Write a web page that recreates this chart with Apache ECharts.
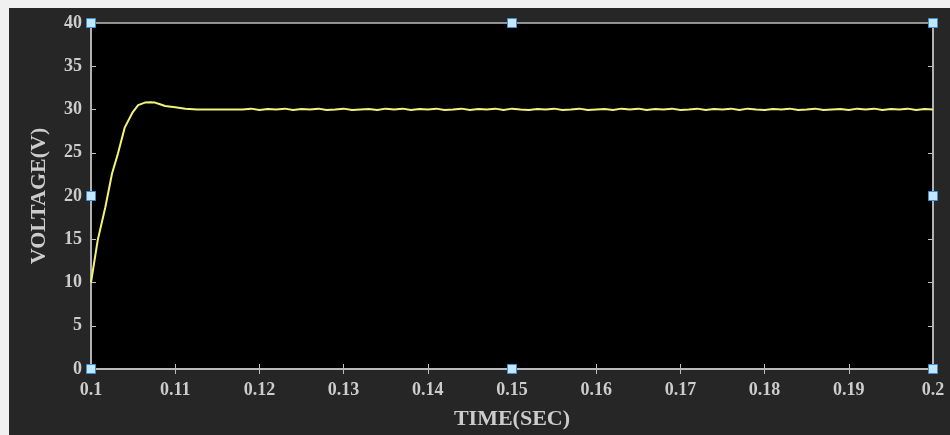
<!DOCTYPE html>
<html>
<head>
<meta charset="utf-8">
<script src="https://cdn.jsdelivr.net/npm/echarts@6/dist/echarts.min.js"></script>
<style>
html,body{margin:0;padding:0;background:#f0f0f0;width:950px;height:435px;overflow:hidden;}
#chart{position:absolute;left:9px;top:8px;width:941px;height:427px;background:#262626;}
</style>
</head>
<body>
<div id="chart"></div>
<script>
// ---- data ----
var xTicks = [0.1, 0.11, 0.12, 0.13, 0.14, 0.15, 0.16, 0.17, 0.18, 0.19, 0.2];
var yTicks = [0, 5, 10, 15, 20, 25, 30, 35, 40];
var transientTime = [0.1, 0.1008, 0.1017, 0.1025, 0.1032, 0.1040, 0.1049, 0.1056, 0.1064, 0.1070, 0.1076, 0.1082, 0.1088, 0.1100, 0.1112, 0.1126, 0.1175];
var transientVoltage = [10, 14.9, 18.7, 22.6, 24.9, 27.9, 29.6, 30.5, 30.8, 30.85, 30.8, 30.6, 30.4, 30.25, 30.1, 30.0, 30.0];
var steadyStart = 0.118;
var steadyStep = 0.001;
var steadyVoltage = [30.0, 30.1, 29.95, 30.05, 30.0, 30.1, 29.95, 30.05, 30.0, 30.1,
  29.95, 30.0, 30.1, 29.95, 30.0, 30.05, 29.95, 30.1, 30.0, 30.1,
  29.95, 30.05, 30.0, 30.1, 29.95, 30.0, 30.1, 29.95, 30.05, 30.0,
  30.1, 29.95, 30.1, 30.0, 29.95, 30.05, 30.0, 30.1, 29.95, 30.0,
  30.1, 29.95, 30.0, 30.05, 29.95, 30.1, 30.0, 30.1, 29.95, 30.05,
  30.0, 30.1, 29.95, 30.0, 30.1, 29.95, 30.05, 30.0, 30.1, 29.95,
  30.1, 30.0, 29.95, 30.05, 30.0, 30.1, 29.95, 30.0, 30.1, 29.95,
  30.0, 30.05, 29.95, 30.1, 30.0, 30.1, 29.95, 30.05, 30.0, 30.1,
  29.95, 30.05, 30.0];
var handleTime = [0.1, 0.15, 0.2, 0.1, 0.2, 0.1, 0.15, 0.2];
var handleVoltage = [40, 40, 40, 20, 20, 0, 0, 0];

// ---- build ----
var lineData = [];
for (var i = 0; i < transientTime.length; i++) lineData.push([transientTime[i], transientVoltage[i]]);
for (var j = 0; j < steadyVoltage.length; j++) lineData.push([+(steadyStart + j * steadyStep).toFixed(4), steadyVoltage[j]]);
var handles = handleTime.map(function (t, k) { return [t, handleVoltage[k]]; });

var font = 'Liberation Serif';
var axisCol = '#bdbdbd';
var labelCol = '#cccccc';

var chart = echarts.init(document.getElementById('chart'));
chart.setOption({
  animation: false,
  backgroundColor: '#262626',
  grid: {left: 82, top: 15, width: 842, height: 346, show: true, backgroundColor: '#000000', borderColor: axisCol, borderWidth: 1.5},
  xAxis: [{
    type: 'value', min: xTicks[0], max: xTicks[xTicks.length - 1], interval: 0.01,
    name: 'TIME(SEC)', nameLocation: 'middle', nameGap: 39,
    nameTextStyle: {color: labelCol, fontFamily: font, fontWeight: 'bold', fontSize: 22},
    axisLine: {show: true, lineStyle: {color: axisCol, width: 1.5}},
    axisTick: {show: true, inside: true, length: 5, lineStyle: {color: axisCol}},
    axisLabel: {color: labelCol, fontFamily: font, fontWeight: 'bold', fontSize: 18, margin: 12,
      formatter: function (v) { return String(+v.toFixed(2)); }},
    splitLine: {show: false}
  }, {
    type: 'value', position: 'top', min: xTicks[0], max: xTicks[xTicks.length - 1], interval: 0.01,
    axisLine: {show: true, lineStyle: {color: axisCol, width: 1.5}},
    axisTick: {show: true, inside: true, length: 5, lineStyle: {color: axisCol}},
    axisLabel: {show: false}, splitLine: {show: false}
  }],
  yAxis: [{
    type: 'value', min: yTicks[0], max: yTicks[yTicks.length - 1], interval: 5,
    name: 'VOLTAGE(V)', nameLocation: 'middle', nameGap: 41,
    nameTextStyle: {color: labelCol, fontFamily: font, fontWeight: 'bold', fontSize: 22},
    axisLine: {show: true, lineStyle: {color: axisCol, width: 1.5}},
    axisTick: {show: true, inside: true, length: 5, lineStyle: {color: axisCol}},
    axisLabel: {color: labelCol, fontFamily: font, fontWeight: 'bold', fontSize: 18, margin: 9},
    splitLine: {show: false}
  }, {
    type: 'value', position: 'right', min: yTicks[0], max: yTicks[yTicks.length - 1], interval: 5,
    axisLine: {show: true, lineStyle: {color: axisCol, width: 1.5}},
    axisTick: {show: true, inside: true, length: 5, lineStyle: {color: axisCol}},
    axisLabel: {show: false}, splitLine: {show: false}
  }],
  series: [{
    type: 'line', data: lineData, showSymbol: false, symbol: 'none',
    lineStyle: {color: '#f3f37a', width: 2}, z: 3
  }, {
    type: 'scatter', data: handles, symbol: 'rect', symbolSize: 9, clip: false,
    itemStyle: {color: '#c4e6ff', borderColor: '#3f8fd6', borderWidth: 1, opacity: 1}, z: 5
  }]
});
</script>
</body>
</html>
